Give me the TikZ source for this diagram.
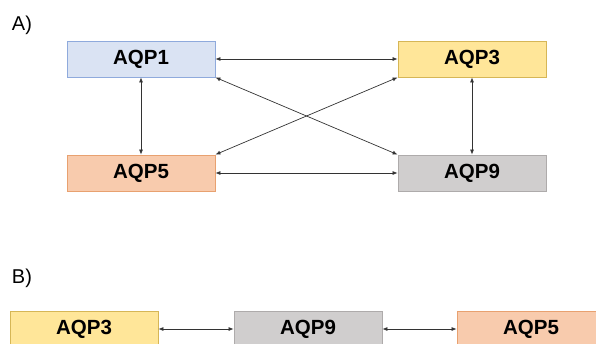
\documentclass[tikz,border=0pt]{standalone}
\usepackage{fontspec}
\setmainfont{Liberation Sans}
\usetikzlibrary{arrows.meta}

\definecolor{blfill}{HTML}{DAE3F3}
\definecolor{bldraw}{HTML}{8FAADC}
\definecolor{yefill}{HTML}{FFE699}
\definecolor{yedraw}{HTML}{D6B656}
\definecolor{orfill}{HTML}{F8CBAD}
\definecolor{ordraw}{HTML}{E8A170}
\definecolor{grfill}{HTML}{D0CECE}
\definecolor{grdraw}{HTML}{AEABAB}

\tikzset{
  aqpbox/.style={rectangle, minimum width=148pt, minimum height=36pt, inner sep=0pt,
    line width=0.8pt, font=\fontsize{20.5}{20.5}\selectfont\bfseries},
  blbox/.style={aqpbox, fill=blfill, draw=bldraw},
  yebox/.style={aqpbox, fill=yefill, draw=yedraw},
  orbox/.style={aqpbox, fill=orfill, draw=ordraw},
  grbox/.style={aqpbox, fill=grfill, draw=grdraw},
  link/.style={draw=black!80, line width=0.7pt, {Latex[length=5pt,width=4pt]}-{Latex[length=5pt,width=4pt]}},
  panel/.style={font=\fontsize{20}{20}\selectfont, inner sep=0pt}
}

\begin{document}
\begin{tikzpicture}[x=1pt,y=-1pt]
    \useasboundingbox (0,0) rectangle (596,343);
    \clip (0,0) rectangle (596,343);
    % panel A
    \node[panel] (labA) at (22,25) {A)};
    \node[blbox] (A1) at (141,59) {AQP1};
    \node[yebox] (A3) at (472,59) {AQP3};
    \node[orbox] (A5) at (141,173) {AQP5};
    \node[grbox] (A9) at (472,173) {AQP9};
    \draw[link] (A1.east) -- (A3.west);
    \draw[link] (A5.east) -- (A9.west);
    \draw[link] (A1.south) -- (A5.north);
    \draw[link] (A3.south) -- (A9.north);
    \draw[link] (A1.south east) -- (A9.north west);
    \draw[link] (A3.south west) -- (A5.north east);
    % panel B
    \node[panel] (labB) at (22,278) {B)};
    \node[yebox] (B3) at (84,329) {AQP3};
    \node[grbox] (B9) at (308,329) {AQP9};
    \node[orbox] (B5) at (531,329) {AQP5};
    \draw[link] (B3.east) -- (B9.west);
    \draw[link] (B9.east) -- (B5.west);
\end{tikzpicture}
\end{document}
